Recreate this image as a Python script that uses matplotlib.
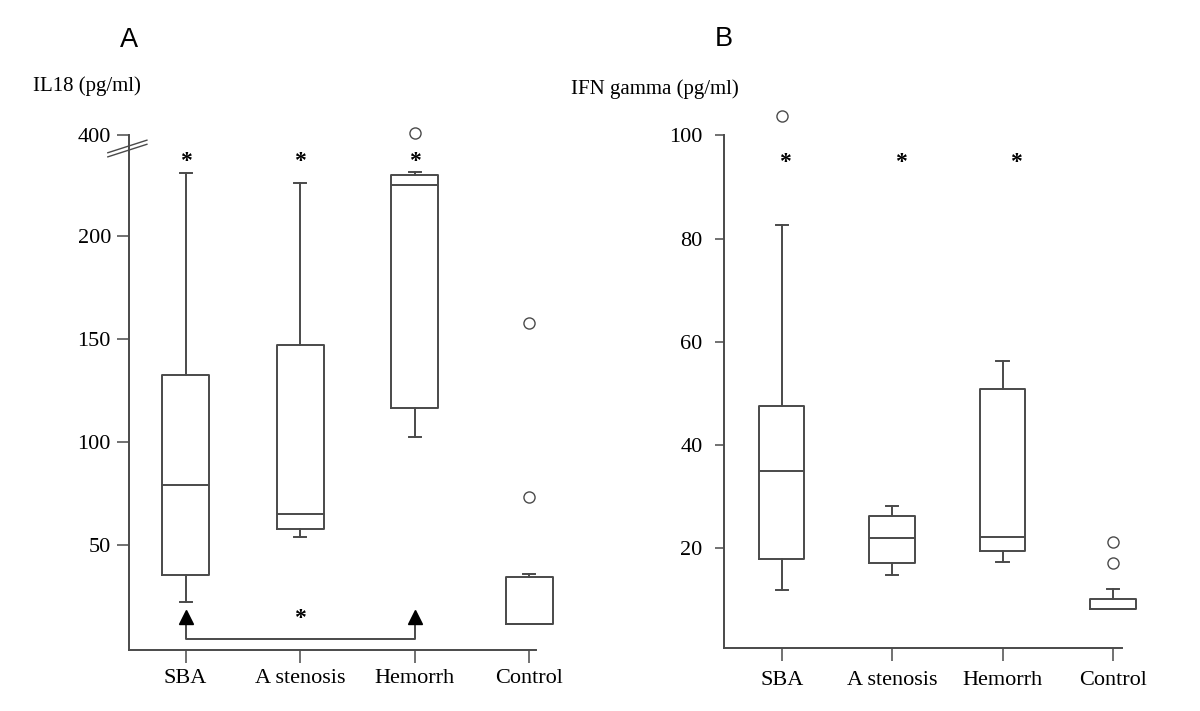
import numpy as np
import matplotlib
matplotlib.use("Agg")
import matplotlib.pyplot as plt

# группы
groups = ["SBA", "A stenosis", "Hemorrh", "Control"]

# === A: IL18 (pg/ml) ===
il18_whislo = [22.5, 53.9, 102.3, 11.5]
il18_q1 = [35.4, 57.6, 116.4, 11.5]
il18_med = [79.0, 65.2, 224.9, 11.5]
il18_q3 = [132.4, 147.2, 229.5, 34.3]
il18_whishi = [230.7, 225.6, 230.9, 35.9]
il18_fliers = [[], [], [420.0], [73.4, 157.6]]
il18_star_y = [236, 236, 236]
il18_yticks = [50, 100, 150, 200, 400]

# === B: IFN gamma (pg/ml) ===
ifn_whislo = [12.0, 14.8, 17.4, 8.2]
ifn_q1 = [17.9, 17.1, 19.4, 8.2]
ifn_med = [35.0, 22.05, 22.2, 8.2]
ifn_q3 = [47.6, 26.3, 50.9, 10.1]
ifn_whishi = [82.6, 28.1, 56.3, 12.05]
ifn_fliers = [[103.8], [], [], [17.1, 21.2]]
ifn_star_x = [0.03, 1.08, 2.12]
ifn_star_y = [94.8, 94.8, 94.8]
ifn_yticks = [20, 40, 60, 80, 100]

LC = "#4a4a4a"
LW = 1.4
SERIF = "Liberation Serif"


def make_stats(lo, q1, med, q3, hi, fl):
    return [dict(whislo=a, q1=b, med=c, q3=d, whishi=e, fliers=f)
            for a, b, c, d, e, f in zip(lo, q1, med, q3, hi, fl)]


def draw_boxes(ax, stats, capw):
    props = dict(color=LC, linewidth=LW)
    ax.bxp(stats, positions=range(len(stats)), widths=0.41, capwidths=capw,
           boxprops=props, whiskerprops=props, capprops=props,
           medianprops=props, manage_ticks=False,
           flierprops=dict(marker="o", markersize=8, markerfacecolor="none",
                           markeredgecolor=LC, markeredgewidth=1.0))
    for art in ax.lines:
        art.set_clip_on(False)


# ломаная шкала: всё выше 240 сжимается, 400 оказывается на месте 249
def fwd(v):
    v = np.asarray(v, float)
    return np.where(v <= 240, v, 240 + (v - 240) * 9 / 160)


def inv(u):
    u = np.asarray(u, float)
    return np.where(u <= 240, u, 240 + (u - 240) * 160 / 9)


fig = plt.figure(figsize=(12, 7.11), dpi=100)

# --- панель A ---
axA = fig.add_axes([0.1075, 0.0858, 0.3392, 0.7243])
axA.set_yscale("function", functions=(fwd, inv))
draw_boxes(axA, make_stats(il18_whislo, il18_q1, il18_med, il18_q3,
                           il18_whishi, il18_fliers), 0.105)
axA.set_xlim(-0.495, 3.06)
axA.set_ylim(-1, 400)
axA.set_yticks(il18_yticks)
axA.set_yticklabels([str(t) for t in il18_yticks])
axA.yaxis.set_minor_locator(matplotlib.ticker.NullLocator())
axA.set_xticks(range(4))
axA.set_xticklabels(groups)
axA.tick_params(axis="y", length=8.5, pad=4.5, width=1.1, color=LC)
axA.tick_params(axis="x", length=9.5, pad=4, width=1.1, color=LC)

for i, y in enumerate(il18_star_y):
    axA.text(i, y, "*", ha="center", va="center", fontsize=17,
             family=SERIF, fontweight="bold")

# скобка сравнения SBA vs Hemorrh
axA.plot([0, 0, 2, 2], [12, 4.4, 4.4, 12], color=LC, lw=LW)
axA.plot([0, 2], [15, 15], linestyle="none", marker="^", markersize=10,
         color="black", clip_on=False)
axA.text(1, 14.5, "*", ha="center", va="center", fontsize=17,
         family=SERIF, fontweight="bold")

# значок разрыва оси
for off in (0.0, 0.008):
    axA.plot([-0.052, 0.044], [0.9656 - off, 0.990 - off], color=LC,
             lw=1.0, transform=axA.transAxes, clip_on=False)

# --- панель B ---
axB = fig.add_axes([0.6033, 0.0890, 0.3315, 0.7207])
draw_boxes(axB, make_stats(ifn_whislo, ifn_q1, ifn_med, ifn_q3,
                           ifn_whishi, ifn_fliers), 0.11)
axB.set_xlim(-0.523, 3.08)
axB.set_ylim(0.74, 100)
axB.set_yticks(ifn_yticks)
axB.set_xticks(range(4))
axB.set_xticklabels(groups)
axB.tick_params(axis="y", length=6.5, pad=9, width=1.1, color=LC)
axB.tick_params(axis="x", length=9.5, pad=7, width=1.1, color=LC)

for x, y in zip(ifn_star_x, ifn_star_y):
    axB.text(x, y, "*", ha="center", va="center", fontsize=17,
             family=SERIF, fontweight="bold")

for ax in (axA, axB):
    for s in ("top", "right"):
        ax.spines[s].set_visible(False)
    for s in ("left", "bottom"):
        ax.spines[s].set_color(LC)
        ax.spines[s].set_linewidth(LW)
    for lab in ax.get_xticklabels() + ax.get_yticklabels():
        lab.set_fontfamily(SERIF)
        lab.set_fontsize(16)

fig.text(141 / 1200, 1 - 86 / 711, "IL18 (pg/ml)", ha="right", va="center",
         fontsize=15, family=SERIF)
fig.text(739 / 1200, 1 - 89 / 711, "IFN gamma (pg/ml)", ha="right",
         va="center", fontsize=15, family=SERIF)
fig.text(128.7 / 1200, 1 - 39.7 / 711, "A", ha="center", va="center",
         fontsize=19.5, family="Liberation Sans")
fig.text(723.7 / 1200, 1 - 39.5 / 711, "B", ha="center", va="center",
         fontsize=19.5, family="Liberation Sans")

fig.savefig("out.png", dpi=100)
